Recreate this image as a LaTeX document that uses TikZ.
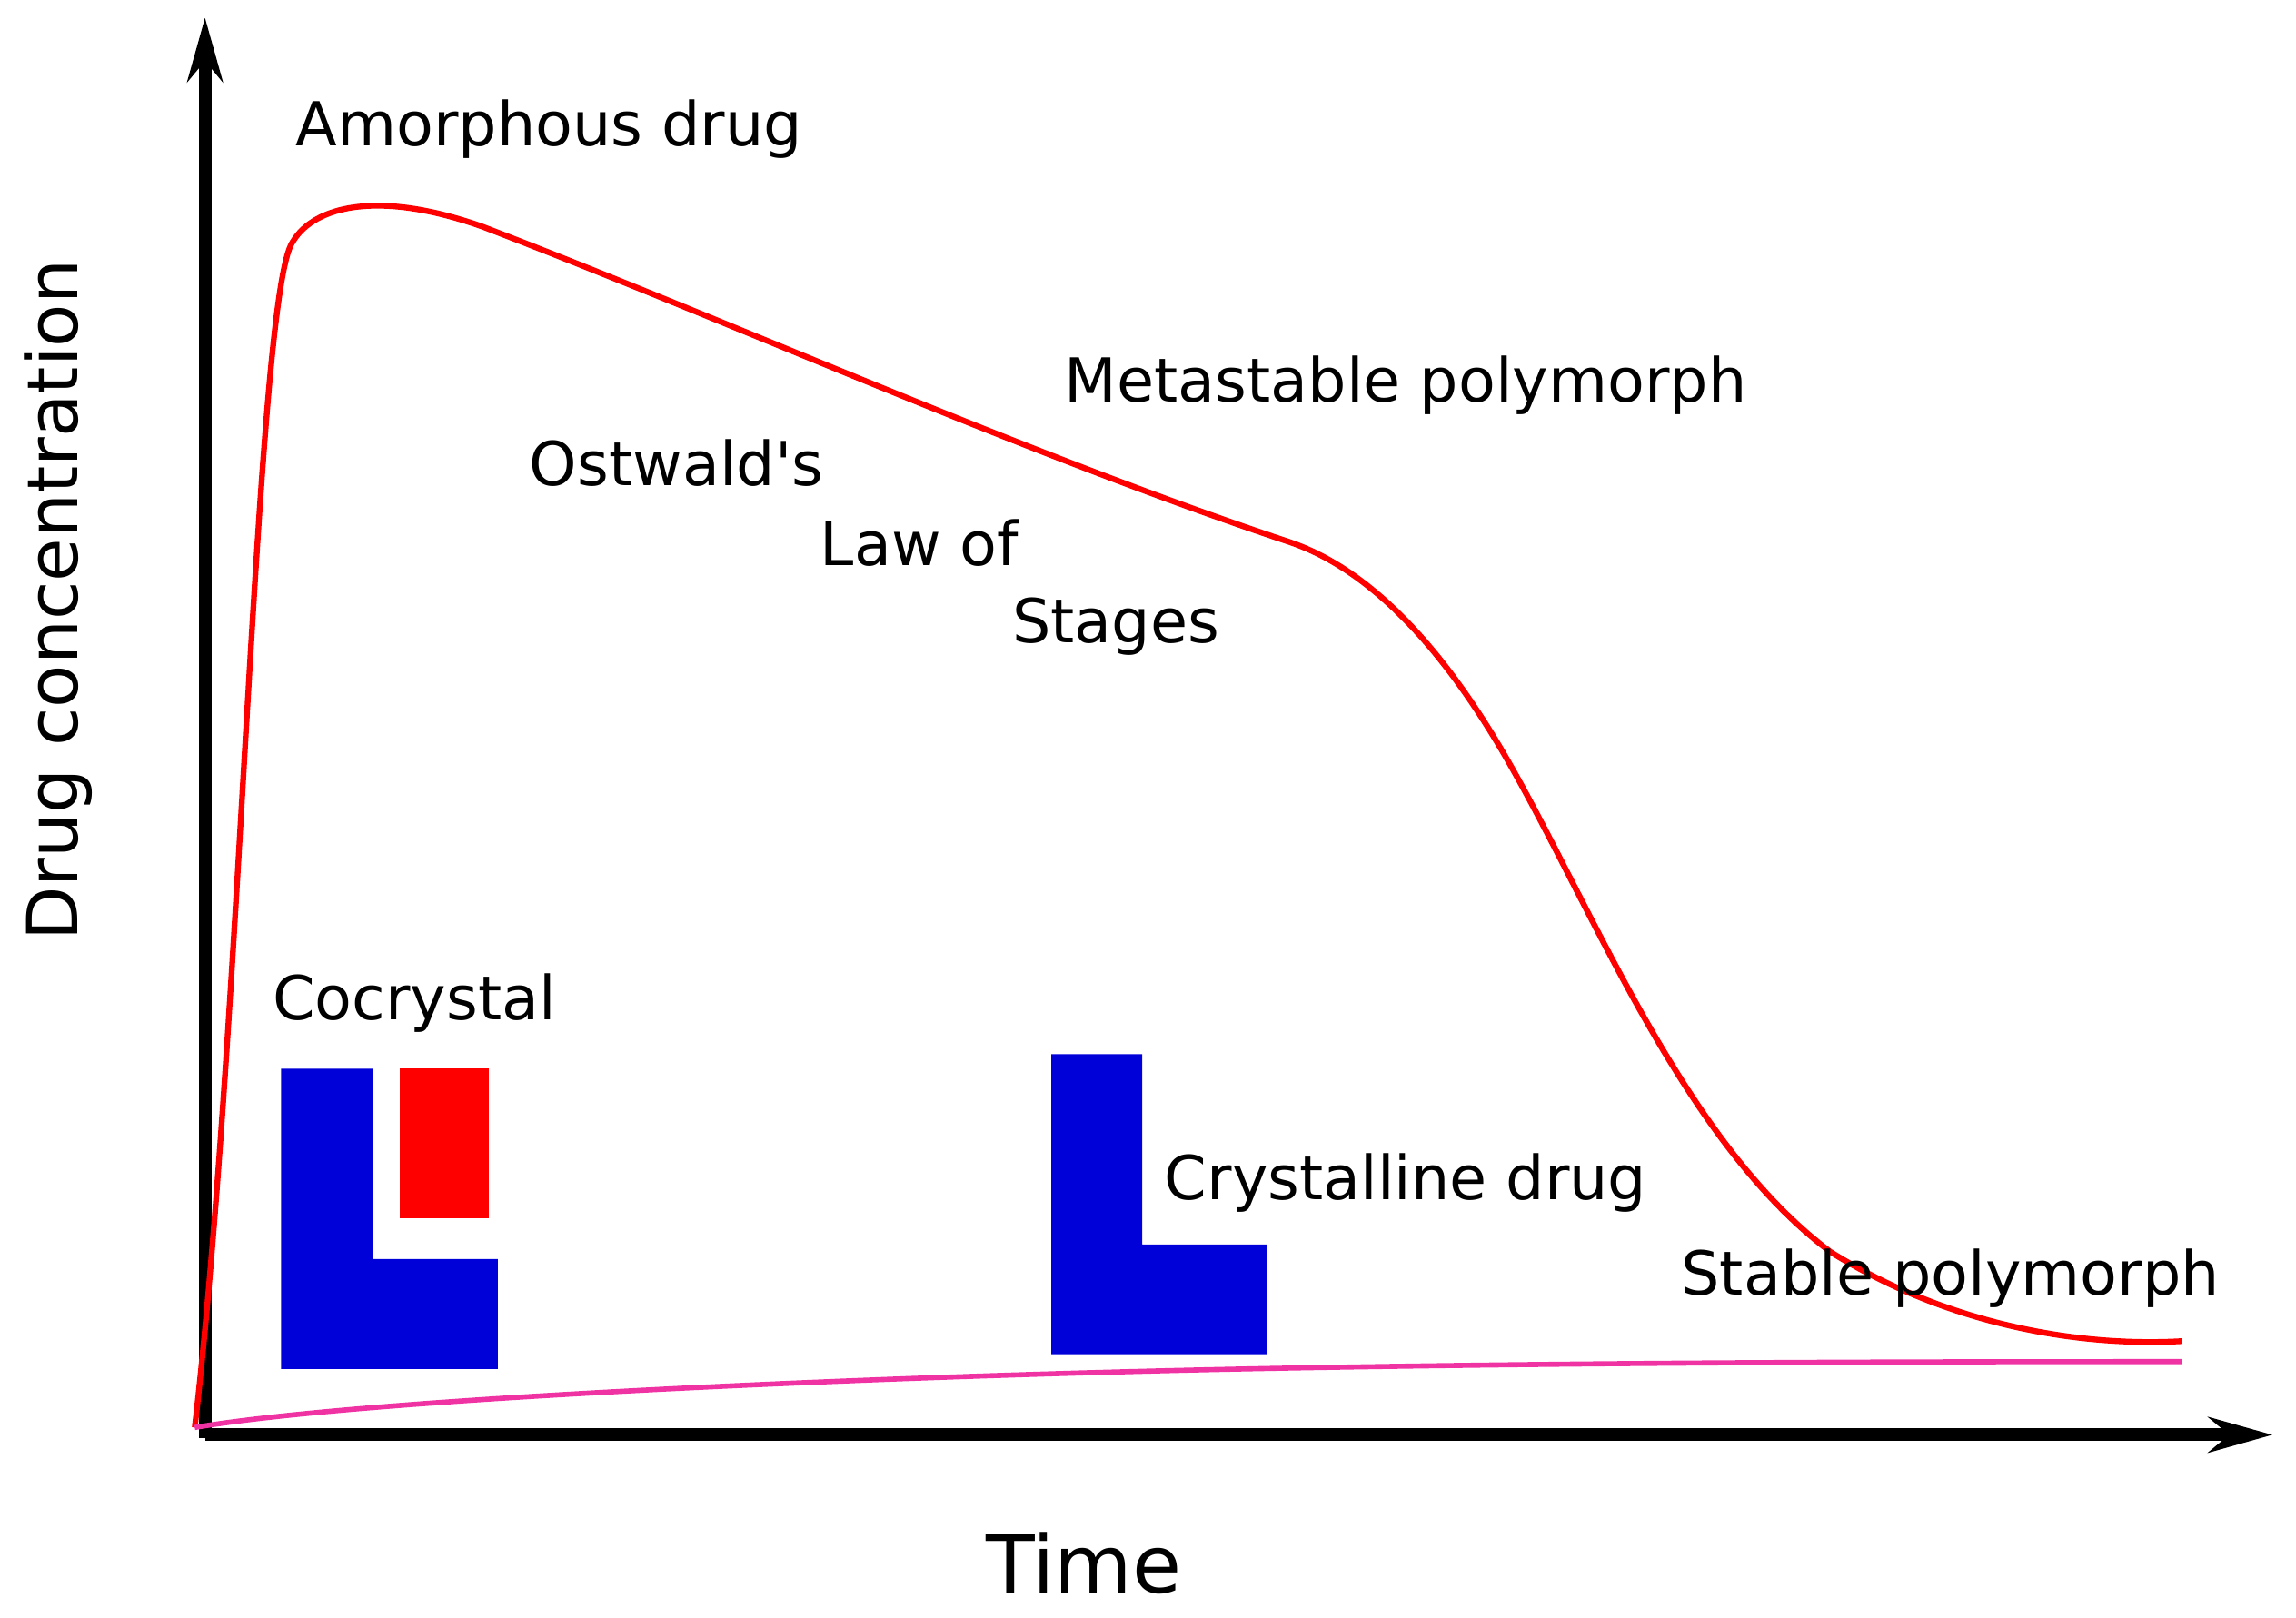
\documentclass[tikz,border=0pt]{standalone}
\usepackage{fontspec}
\setmainfont{DejaVu Sans}
\usetikzlibrary{arrows.meta}
\begin{document}
\begin{tikzpicture}[x=0.016116cm,y=-0.016116cm,
  lbl/.style={font=\fontsize{19}{22}\selectfont,inner sep=0pt},
  blu/.style={fill=blue!85!black,draw=none},
  ax/.style={line width=4pt,-{Stealth[length=20pt,width=11pt]}}]
\useasboundingbox (0,0) rectangle (1568,1105);
\coordinate (o) at (140,980);
\coordinate (ytop) at (140,12);
\coordinate (xend) at (1552,980);
\coordinate (ybot) at (140,982);
\draw[ax] (o) -- (xend);
\draw[ax] (ybot) -- (ytop);
\draw[red,line width=1.8pt] (133,975) .. controls (165,700) and (175,200) .. (200,165)
  .. controls (215,140) and (260,130) .. (330,155)
  .. controls (500,220) and (700,310) .. (880,370)
  .. controls (940,390) and (990,450) .. (1030,520)
  .. controls (1090,625) and (1150,780) .. (1250,855)
  .. controls (1330,905) and (1420,920) .. (1490,916);
\draw[magenta!80,line width=1.6pt] (133,975) .. controls (250,955) and (600,940) .. (850,935)
  .. controls (1100,930) and (1350,930) .. (1490,930);
\fill[blu] (192,730) -- (255,730) -- (255,860) -- (340,860) -- (340,935) -- (192,935) -- cycle;
\fill[red] (273,730) rectangle (334,832);
\fill[blu] (718,720) -- (780,720) -- (780,850) -- (865,850) -- (865,925) -- (718,925) -- cycle;
\node[lbl] (a) at (375,88) {Amorphous drug};
\node[lbl] (m) at (960,263) {Metastable polymorph};
\node[lbl] (o1) at (462,316) {Ostwald\textquotesingle s};
\node[lbl] (o2) at (628,371) {Law of};
\node[lbl] (o3) at (762,428) {Stages};
\node[lbl] (c) at (283,685) {Cocrystal};
\node[lbl] (cd) at (960,808) {Crystalline drug};
\node[lbl] (s) at (1332,873) {Stable polymorph};
\node[inner sep=0pt,font=\fontsize{25}{28}\selectfont] (t) at (740,1068) {Time};
\node[inner sep=0pt,rotate=90,font=\fontsize{22}{26}\selectfont] (y) at (40,410) {Drug concentration};
\end{tikzpicture}
\end{document}
